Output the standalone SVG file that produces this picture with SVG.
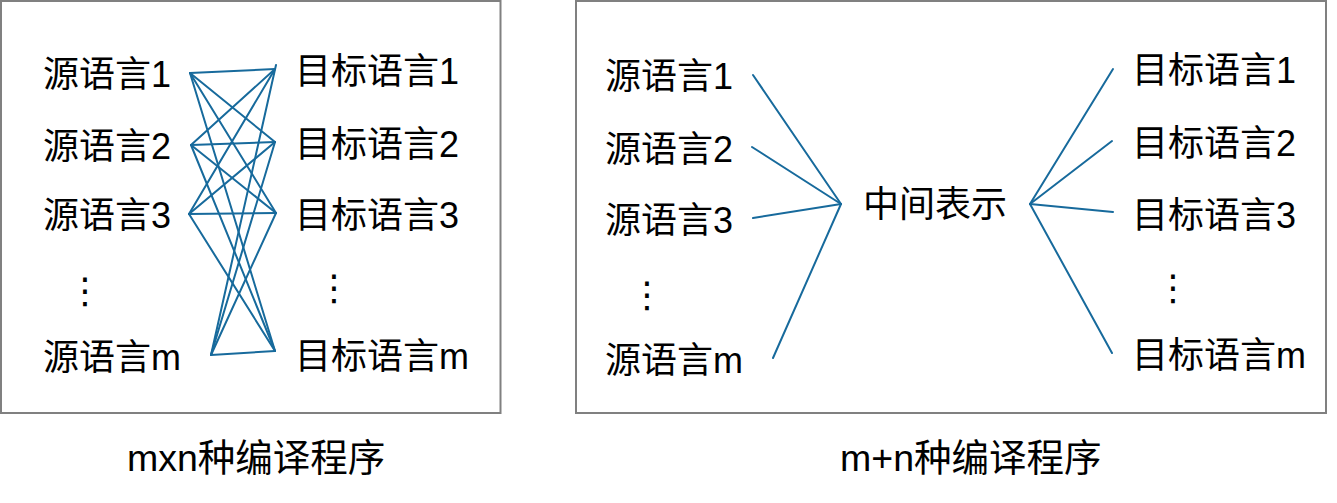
<svg xmlns="http://www.w3.org/2000/svg" width="1337" height="503" viewBox="0 0 1337 503">
<style>
.box{fill:#ffffff;stroke:#808080;stroke-width:2}
.t{font-family:"Liberation Sans","Noto Sans CJK SC",sans-serif;font-size:36px;fill:#000000}
.cap{font-family:"Liberation Sans","Noto Sans CJK SC",sans-serif;font-size:37.5px;fill:#000000}
.dots{font-family:"Noto Sans CJK SC","DejaVu Sans",sans-serif;font-size:36px;fill:#000000;text-anchor:middle}
.c line{stroke:#176a9c;stroke-width:2;stroke-linecap:round;fill:none}
</style>
<rect width="1337" height="503" fill="#ffffff"/>
<g id="box-left"><rect class="box" x="1" y="1" width="499.5" height="412"/></g>
<g id="box-right"><rect class="box" x="576" y="1" width="750" height="412"/></g>

<g id="connectors" class="c">
  <line x1="190" y1="73" x2="275" y2="69"/>
  <line x1="190" y1="73" x2="275" y2="142"/>
  <line x1="190" y1="73" x2="276" y2="213"/>
  <line x1="190" y1="73" x2="275" y2="351"/>
  <line x1="191" y1="145" x2="275" y2="69"/>
  <line x1="191" y1="145" x2="275" y2="142"/>
  <line x1="191" y1="145" x2="276" y2="213"/>
  <line x1="191" y1="145" x2="275" y2="351"/>
  <line x1="189" y1="214" x2="275" y2="69"/>
  <line x1="189" y1="214" x2="275" y2="142"/>
  <line x1="189" y1="214" x2="276" y2="213"/>
  <line x1="189" y1="214" x2="275" y2="351"/>
  <line x1="211" y1="355" x2="276" y2="65"/>
  <line x1="211" y1="355" x2="275" y2="142"/>
  <line x1="211" y1="355" x2="276" y2="213"/>
  <line x1="211" y1="355" x2="275" y2="351"/>

  <line x1="753" y1="75" x2="841" y2="204"/>
  <line x1="752" y1="147" x2="841" y2="204"/>
  <line x1="753" y1="218" x2="841" y2="204"/>
  <line x1="773" y1="358" x2="841" y2="204"/>
  <line x1="1030" y1="204" x2="1113" y2="69"/>
  <line x1="1030" y1="204" x2="1112" y2="141"/>
  <line x1="1030" y1="204" x2="1113" y2="212"/>
  <line x1="1030" y1="204" x2="1112" y2="353"/>
</g>

<g id="left-src-1"><text class="t" x="43" y="87">源语言1</text></g>
<g id="left-src-2"><text class="t" x="43" y="159">源语言2</text></g>
<g id="left-src-3"><text class="t" x="43" y="228">源语言3</text></g>
<g id="left-src-dots"><text class="dots" x="85" y="303">⋮</text></g>
<g id="left-src-m"><text class="t" x="43" y="370">源语言m</text></g>

<g id="left-tgt-1"><text class="t" x="295" y="84">目标语言1</text></g>
<g id="left-tgt-2"><text class="t" x="295" y="157">目标语言2</text></g>
<g id="left-tgt-3"><text class="t" x="295" y="228">目标语言3</text></g>
<g id="left-tgt-dots"><text class="dots" x="334" y="300">⋮</text></g>
<g id="left-tgt-m"><text class="t" x="295" y="369">目标语言m</text></g>

<g id="right-src-1"><text class="t" x="605" y="89">源语言1</text></g>
<g id="right-src-2"><text class="t" x="605" y="162">源语言2</text></g>
<g id="right-src-3"><text class="t" x="605" y="233">源语言3</text></g>
<g id="right-src-dots"><text class="dots" x="647" y="307">⋮</text></g>
<g id="right-src-m"><text class="t" x="605" y="373">源语言m</text></g>

<g id="hub"><text class="t" x="863" y="217">中间表示</text></g>

<g id="right-tgt-1"><text class="t" x="1132" y="83">目标语言1</text></g>
<g id="right-tgt-2"><text class="t" x="1132" y="156">目标语言2</text></g>
<g id="right-tgt-3"><text class="t" x="1132" y="228">目标语言3</text></g>
<g id="right-tgt-dots"><text class="dots" x="1173" y="300">⋮</text></g>
<g id="right-tgt-m"><text class="t" x="1132" y="368">目标语言m</text></g>

<g id="caption-left"><text class="cap" x="127" y="471">mxn种编译程序</text></g>
<g id="caption-right"><text class="cap" x="840" y="471">m+n种编译程序</text></g>
</svg>
